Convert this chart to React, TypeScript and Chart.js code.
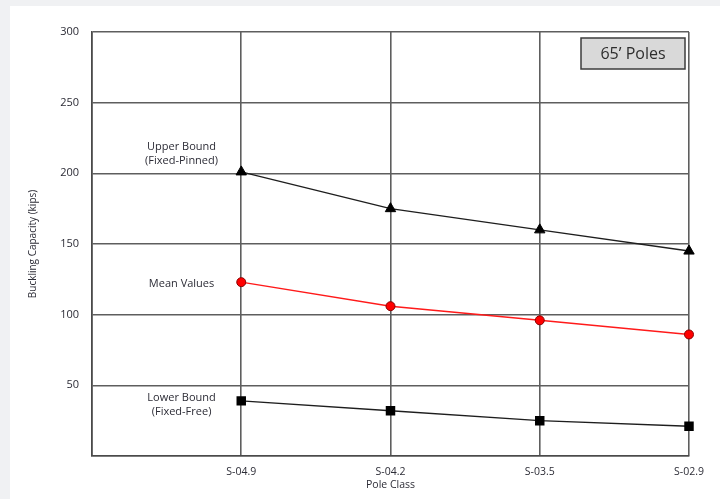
import { useEffect, useRef } from 'react';
import { Chart, registerables } from 'chart.js';

Chart.register(...registerables);

const poleClasses = ['S-04.9', 'S-04.2', 'S-03.5', 'S-02.9'];
const upperBound = [201, 175, 160, 145];
const meanValues = [123, 106, 96, 86];
const lowerBound = [39, 32, 25, 21];
const yMin = 0;
const yMax = 300;
const yStep = 50;
const chartTitle = '65\u2019 Poles';
const yTitle = 'Buckling Capacity (kips)';
const xTitle = 'Pole Class';
const annotationLines = [
  ['Upper Bound', '(Fixed-Pinned)'],
  ['Mean Values'],
  ['Lower Bound', '(Fixed-Free)'],
];
const annotationValues = [214, 122, 36];

const FONT = '"Open Sans", "Liberation Sans", sans-serif';
const TEXT = '#2c2c36';
const GRID = '#5e5e5e';

const decorPlugin = {
  id: 'decor',
  beforeDraw(chart: any) {
    const { ctx, width, height } = chart;
    ctx.save();
    ctx.fillStyle = '#f0f1f3';
    ctx.fillRect(0, 0, width, height);
    ctx.fillStyle = '#ffffff';
    ctx.fillRect(10, 6, width - 10, height - 6);
    ctx.restore();
  },
  afterDraw(chart: any) {
    const { ctx, chartArea, scales } = chart;
    const x = scales.x;
    const y = scales.y;
    ctx.save();
    const ax = chartArea.left + (x.getPixelForValue(1) - chartArea.left) * 0.6;
    ctx.font = `11px ${FONT}`;
    ctx.fillStyle = TEXT;
    ctx.textAlign = 'center';
    ctx.textBaseline = 'middle';
    const lh = 14;
    annotationLines.forEach((lines, i) => {
      const cy = y.getPixelForValue(annotationValues[i]);
      const start = cy - ((lines.length - 1) * lh) / 2;
      lines.forEach((t, j) => ctx.fillText(t, ax, start + j * lh));
    });
    const bw = 104;
    const bh = 31;
    const bx = chartArea.right - 108;
    const by = chartArea.top + 6;
    ctx.fillStyle = '#d9d9d9';
    ctx.fillRect(bx, by, bw, bh);
    ctx.strokeStyle = '#3c3c3c';
    ctx.lineWidth = 1.5;
    ctx.strokeRect(bx, by, bw, bh);
    ctx.font = `16px ${FONT}`;
    ctx.fillStyle = '#2e2e2e';
    ctx.fillText(chartTitle, bx + bw / 2, by + bh / 2 + 1);
    ctx.restore();
  },
};

export default function App() {
  const ref = useRef<HTMLCanvasElement | null>(null);
  useEffect(() => {
    if (!ref.current) return;
    const pad = (arr: number[]) => [null, ...arr];
    const chart = new Chart(ref.current, {
      type: 'line',
      data: {
        labels: ['', ...poleClasses],
        datasets: [
          {
            label: 'Upper Bound (Fixed-Pinned)',
            data: pad(upperBound),
            borderColor: '#1e1e1e',
            backgroundColor: '#000000',
            borderWidth: 1.4,
            pointStyle: 'triangle',
            pointRadius: 6,
            pointBorderWidth: 1,
            pointBorderColor: '#000000',
            tension: 0,
          },
          {
            label: 'Mean Values',
            data: pad(meanValues),
            borderColor: '#ff1a1a',
            backgroundColor: '#ff0000',
            borderWidth: 1.4,
            pointStyle: 'circle',
            pointRadius: 4.5,
            pointBorderWidth: 1,
            pointBorderColor: '#8a0000',
            tension: 0,
          },
          {
            label: 'Lower Bound (Fixed-Free)',
            data: pad(lowerBound),
            borderColor: '#1e1e1e',
            backgroundColor: '#000000',
            borderWidth: 1.4,
            pointStyle: 'rect',
            pointRadius: 6.7,
            pointBorderWidth: 0,
            tension: 0,
          },
        ],
      },
      options: {
        responsive: false,
        animation: false,
        layout: { padding: { left: 10, top: 32, right: 31, bottom: 0 } },
        plugins: {
          legend: { display: false },
          tooltip: { enabled: false },
          title: { display: false },
        },
        scales: {
          x: {
            type: 'category',
            offset: false,
            grid: { color: GRID, lineWidth: 1.6, drawTicks: false, offset: false },
            border: { color: '#4a4a4a', width: 1.6 },
            ticks: {
              autoSkip: false,
              maxRotation: 0,
              padding: 10,
              color: TEXT,
              font: { family: FONT, size: 10.5 },
            },
            title: {
              display: true,
              text: xTitle,
              color: TEXT,
              font: { family: FONT, size: 10.5 },
              padding: { top: 0, bottom: 8 },
            },
            afterFit: (s: any) => {
              s.height = 43;
            },
          },
          y: {
            min: yMin,
            max: yMax,
            grid: { color: GRID, lineWidth: 1.6, drawTicks: false },
            border: { color: '#4a4a4a', width: 1.6 },
            ticks: {
              stepSize: yStep,
              padding: 13,
              color: TEXT,
              font: { family: FONT, size: 11 },
              callback: (v: any) => (v === 0 ? '' : String(v)),
            },
            title: {
              display: true,
              text: yTitle,
              color: TEXT,
              font: { family: FONT, size: 10 },
              padding: { top: 17, bottom: 0 },
            },
            afterFit: (s: any) => {
              s.width = 82;
            },
          },
        },
      },
      plugins: [decorPlugin],
    });
    return () => chart.destroy();
  }, []);
  return (
    <div style={{ position: 'fixed', left: 0, top: 0, width: 720, height: 499 }}>
      <canvas ref={ref} width={720} height={499} style={{ display: 'block' }} />
    </div>
  );
}
